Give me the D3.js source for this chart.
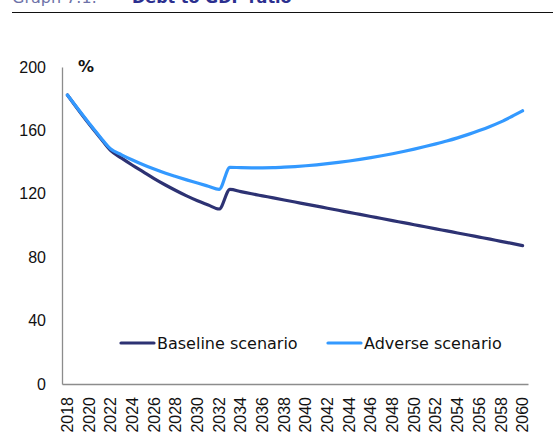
<!DOCTYPE html>
<html><head><meta charset="utf-8">
<script src="https://cdn.jsdelivr.net/npm/d3@7/dist/d3.min.js"></script>
<style>
body{margin:0;background:#fff;}
svg{display:block;font-family:"DejaVu Sans",sans-serif;}
</style></head><body>
<svg id="c" width="553" height="435"></svg>
<script>
const years = d3.range(2018, 2061);
const yTicks = [0, 40, 80, 120, 160, 200];
const xTickLabels = years.filter((d, i) => i % 2 === 0);
const seriesNames = ["Baseline scenario", "Adverse scenario"];
const baseline = [182.3, 173.0, 164.0, 155.5, 147.2, 142.5, 138.0, 133.8, 129.6, 125.7, 122.1, 118.7, 115.6, 112.9, 110.4,
  122.8, 121.4, 120.0, 118.7, 117.4, 116.1, 114.8, 113.5, 112.2, 110.9, 109.6, 108.3, 107.0, 105.7, 104.4,
  103.1, 101.8, 100.5, 99.2, 97.9, 96.6, 95.3, 94.0, 92.7, 91.4, 90.0, 88.7, 87.3];
const adverse = [182.3, 173.3, 164.5, 156.0, 148.2, 144.6, 141.3, 138.3, 135.6, 133.1, 130.9, 128.8, 126.8, 124.8, 122.8,
  136.7, 136.5, 136.4, 136.4, 136.5, 136.8, 137.2, 137.7, 138.3, 139.0, 139.8, 140.7, 141.7, 142.8, 144.0,
  145.3, 146.7, 148.2, 149.8, 151.5, 153.3, 155.3, 157.5, 159.9, 162.5, 165.4, 168.8, 172.4];
const colors = ["#2D3273", "#3399FF"];

const svg = d3.select("#c");
const FS = 16;

// title (partially clipped at top, as in the source)
const t = svg.append("text").attr("x", 12).attr("y", 3).attr("font-size", FS);
t.append("tspan").attr("fill", "#6E72A8").text("Graph 7.1:");
t.append("tspan").attr("x", 132).attr("fill", "#2B2F8F").attr("font-weight", "bold").text("Debt to GDP ratio");
svg.append("line").attr("x1", 12).attr("x2", 553).attr("y1", 12.5).attr("y2", 12.5).attr("stroke", "#111").attr("stroke-width", 1.2);

const x = d3.scaleBand().domain(years).range([62, 528]).padding(0);
const cx = d => x(d) + x.bandwidth() / 2;
const y = d3.scaleLinear().domain([0, 200]).range([384, 67]);

// y axis
const ya = svg.append("g").attr("transform", "translate(62,0)")
  .call(d3.axisLeft(y).tickValues(yTicks).tickSize(0).tickPadding(16));
ya.select(".domain").attr("stroke", "#8c8c8c").attr("stroke-width", 1.3);
ya.selectAll("text").attr("font-size", FS).attr("fill", "#111").attr("font-family", "inherit");

// x axis
const xa = svg.append("g").attr("transform", "translate(0,384)")
  .call(d3.axisBottom(x).tickValues(xTickLabels).tickSize(0));
xa.select(".domain").attr("stroke", "#8c8c8c").attr("stroke-width", 1.3);
xa.selectAll("text").attr("font-size", FS).attr("fill", "#111").attr("font-family", "inherit")
  .attr("text-anchor", "end").attr("transform", "rotate(-90)")
  .attr("x", -13).attr("y", 0).attr("dy", "0.35em");

svg.append("text").attr("x", 78).attr("y", 72).attr("font-size", FS).attr("font-weight", "bold").attr("fill", "#111").text("%");

const line = d3.line().x((d, i) => cx(years[i])).y(d => y(d)).curve(d3.curveMonotoneX);
[baseline, adverse].forEach((s, k) => {
  svg.append("path").datum(s).attr("d", line).attr("fill", "none")
    .attr("stroke", colors[k]).attr("stroke-width", 3.2).attr("stroke-linejoin", "round").attr("stroke-linecap", "round");
});

// legend
const legX = [121, 328];
seriesNames.forEach((n, k) => {
  svg.append("line").attr("x1", legX[k]).attr("x2", legX[k] + 33).attr("y1", 343).attr("y2", 343)
    .attr("stroke", colors[k]).attr("stroke-width", 3.2).attr("stroke-linecap", "round");
  svg.append("text").attr("x", legX[k] + 36).attr("y", 349).attr("font-size", FS).attr("fill", "#111").text(n);
});
</script>
</body></html>
